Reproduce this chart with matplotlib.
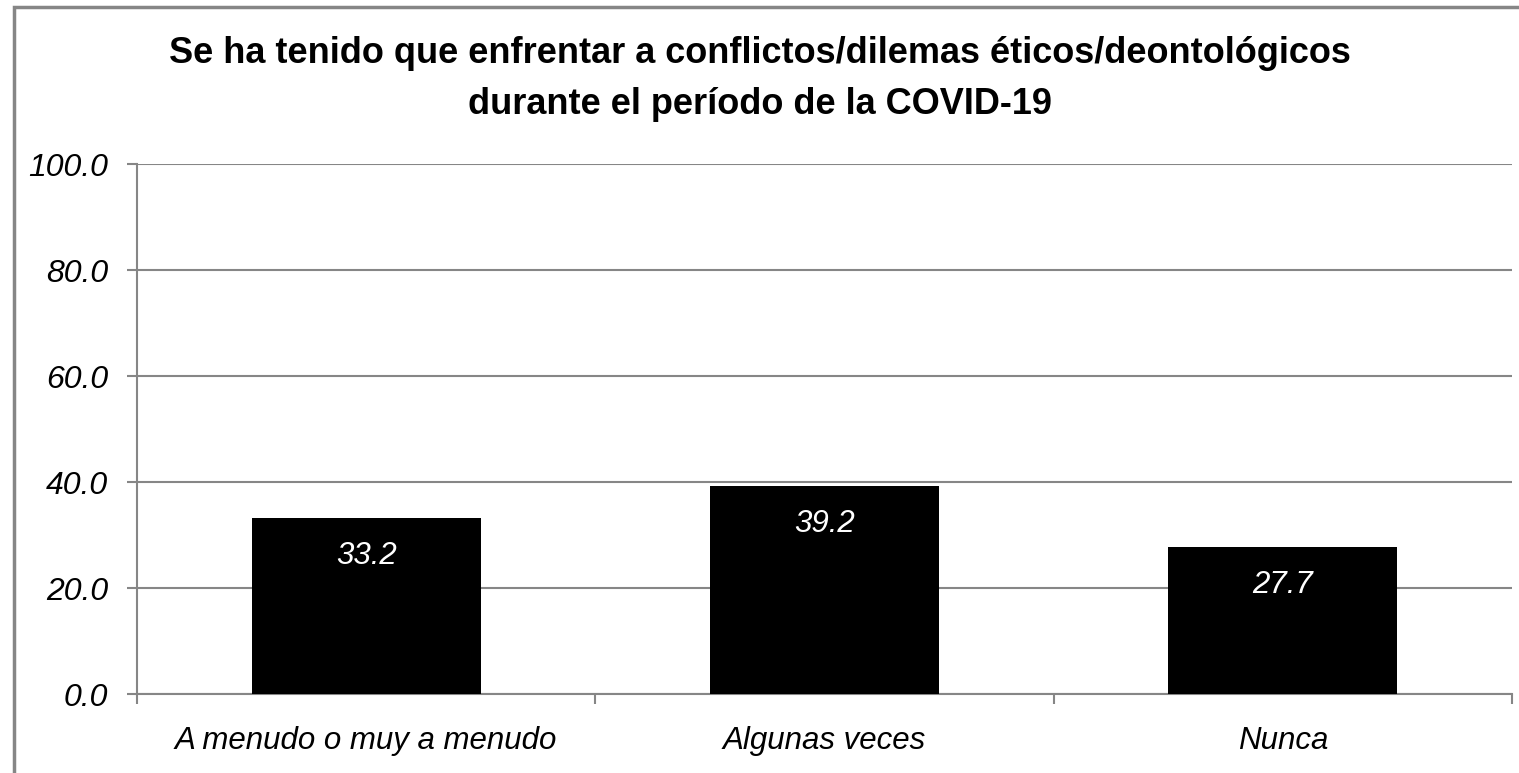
import matplotlib
matplotlib.use("Agg")
import matplotlib.pyplot as plt
from matplotlib.patches import Rectangle
from matplotlib.ticker import FixedLocator, NullFormatter

categories = ["A menudo o muy a menudo", "Algunas veces", "Nunca"]
values = [33.2, 39.2, 27.7]
yticks = [0, 20, 40, 60, 80, 100]
title = "Se ha tenido que enfrentar a conflictos/dilemas éticos/deontológicos\ndurante el período de la COVID-19"

FAM = ["Liberation Sans Narrow", "Liberation Sans", "DejaVu Sans"]
GRAY = "#868686"

W, H = 1519, 773
fig = plt.figure(figsize=(W / 100, H / 100), dpi=100)

# figure border (top & left visible)
fig.patches.append(Rectangle((14 / W, -0.05), 1.2, (H - 7) / H + 0.05, transform=fig.transFigure,
                             fill=False, edgecolor=GRAY, linewidth=2.5))

ax = fig.add_axes([137 / W, (H - 694) / H, (1512 - 137) / W, (694 - 164) / H])
x = list(range(len(categories)))
ax.bar(x, values, width=0.5, color="black", zorder=3)
ax.set_xlim(-0.5, len(categories) - 0.5)
ax.set_ylim(0, 100)

ax.set_yticks(yticks)
ax.set_yticklabels([f"{v:.1f}" for v in yticks], fontsize=23, style="italic", family=FAM)
ax.yaxis.grid(True, color=GRAY, linewidth=1.5, zorder=0)
ax.set_axisbelow(True)

ax.set_xticks(x)
ax.set_xticklabels(categories, fontsize=22.5, style="italic", family=FAM)
ax.tick_params(axis="x", which="major", length=0, pad=23)
ax.xaxis.set_minor_locator(FixedLocator([i - 0.5 for i in range(len(categories) + 1)]))
ax.xaxis.set_minor_formatter(NullFormatter())
ax.tick_params(axis="x", which="minor", length=7, width=1.5, color=GRAY, direction="out")
ax.tick_params(axis="y", length=7, width=1.5, color=GRAY, pad=14)

for s in ["top", "right"]:
    ax.spines[s].set_visible(False)
for s in ["left", "bottom"]:
    ax.spines[s].set_color(GRAY)
    ax.spines[s].set_linewidth(1.5)

for xi, v in zip(x, values):
    ax.annotate(f"{v:.1f}", (xi, v), xytext=(0, -27), textcoords="offset points",
                ha="center", va="center", color="white", fontsize=22.5, style="italic",
                family=FAM, zorder=4)

fig.text(0.5, 1 - 79 / H, title, ha="center", va="center", fontsize=26, fontweight="bold",
         family=FAM, linespacing=1.6)

fig.savefig("out.png", dpi=100)
